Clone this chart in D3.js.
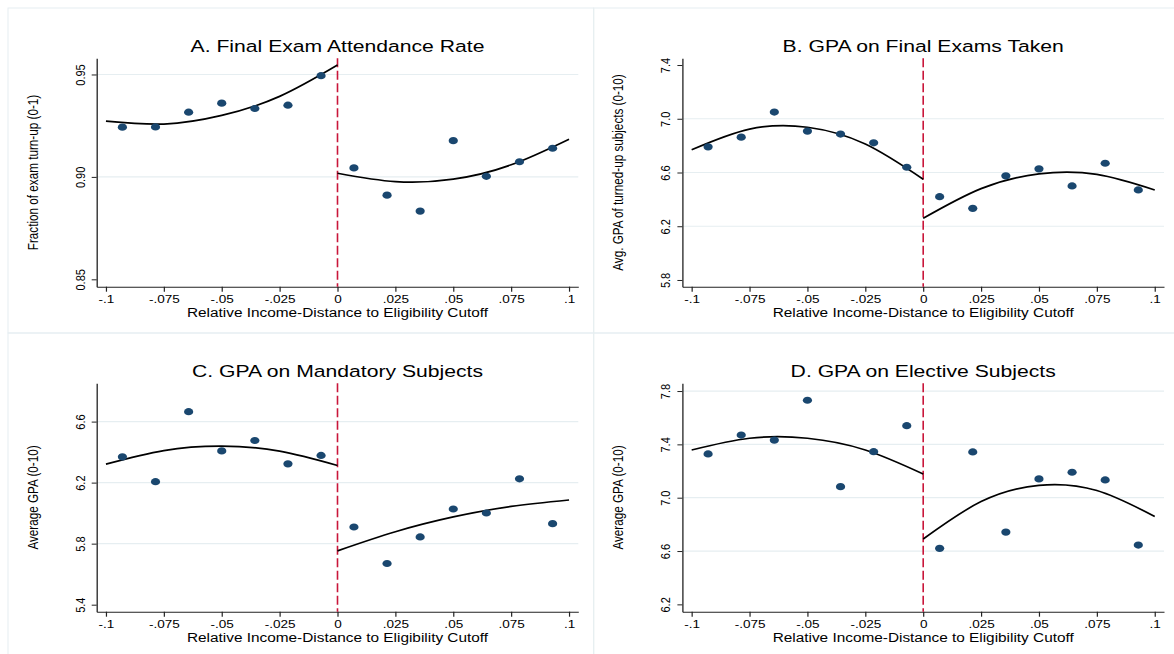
<!DOCTYPE html>
<html>
<head>
<meta charset="utf-8">
<script src="https://cdn.jsdelivr.net/npm/d3@7"></script>
<style>
  html, body { margin: 0; padding: 0; background: #fff; }
  svg { display: block; }
  text { font-family: "Liberation Sans", Arial, Helvetica, sans-serif; fill: #000; }
</style>
</head>
<body>
<svg id="chart" width="1174" height="654"></svg>
<script>
// ---- Data -----------------------------------------------------------------
// Bin centres of the relative income-distance running variable
const binCenters = [-0.0929, -0.0786, -0.0643, -0.05, -0.0357, -0.0214, -0.0071,
                     0.0071,  0.0214,  0.0357,  0.05,  0.0643,  0.0786,  0.0929];

// Binned outcome means
const attendanceRate = [0.9243, 0.9244, 0.9316, 0.9360, 0.9334, 0.9350, 0.9494,
                        0.9044, 0.8911, 0.8833, 0.9177, 0.9003, 0.9074, 0.9140];
const gpaTaken       = [6.791, 6.863, 7.050, 6.908, 6.886, 6.821, 6.639,
                        6.420, 6.333, 6.575, 6.627, 6.500, 6.669, 6.470];
const gpaMandatory   = [6.369, 6.206, 6.665, 6.408, 6.476, 6.323, 6.378,
                        5.909, 5.670, 5.844, 6.027, 6.001, 6.225, 5.931];
const gpaElective    = [7.328, 7.470, 7.432, 7.731, 7.083, 7.345, 7.540,
                        6.620, 7.343, 6.742, 7.141, 7.191, 7.133, 6.645];

// Quadratic fit values on each side of the cutoff
const fitLeftX  = [-0.1, -0.075, -0.05, -0.025, 0];
const fitRightX = [0, 0.025, 0.05, 0.075, 0.1];
const attendanceFitLeft  = [0.9272, 0.9258, 0.9300, 0.9393, 0.9546];
const attendanceFitRight = [0.9018, 0.8977, 0.8989, 0.9059, 0.9184];
const gpaTakenFitLeft    = [6.769, 6.923, 6.937, 6.812, 6.550];
const gpaTakenFitRight   = [6.259, 6.480, 6.590, 6.586, 6.470];
const gpaMandatoryFitLeft  = [6.321, 6.410, 6.439, 6.406, 6.312];
const gpaMandatoryFitRight = [5.753, 5.878, 5.975, 6.044, 6.086];
const gpaElectiveFitLeft   = [7.358, 7.446, 7.446, 7.358, 7.178];
const gpaElectiveFitRight  = [6.690, 6.971, 7.093, 7.054, 6.859];

// Axis ticks and labels
const xTicks      = [-0.1, -0.075, -0.05, -0.025, 0, 0.025, 0.05, 0.075, 0.1];
const xTickLabels = ["-.1", "-.075", "-.05", "-.025", "0", ".025", ".05", ".075", ".1"];
const attendanceTicks = [0.85, 0.90, 0.95];
const attendanceTickLabels = ["0.85", "0.90", "0.95"];
const attendanceGrid = [0.90, 0.95];
const gpaTakenTicks = [5.8, 6.2, 6.6, 7.0, 7.4];
const gpaTakenTickLabels = ["5.8", "6.2", "6.6", "7.0", "7.4"];
const gpaTakenGrid = [6.2, 6.6, 7.0];
const gpaMandatoryTicks = [5.4, 5.8, 6.2, 6.6];
const gpaMandatoryTickLabels = ["5.4", "5.8", "6.2", "6.6"];
const gpaMandatoryGrid = [5.8, 6.2, 6.6];
const gpaElectiveTicks = [6.2, 6.6, 7.0, 7.4, 7.8];
const gpaElectiveTickLabels = ["6.2", "6.6", "7.0", "7.4", "7.8"];
const gpaElectiveGrid = [6.6, 7.0, 7.4, 7.8];

const panelTitles = ["A. Final Exam Attendance Rate", "B. GPA on Final Exams Taken",
                     "C. GPA on Mandatory Subjects", "D. GPA on Elective Subjects"];
const yTitles = ["Fraction of exam turn-up (0-1)", "Avg. GPA of turned-up subjects (0-10)",
                 "Average GPA (0-10)", "Average GPA (0-10)"];
const xTitle = "Relative Income-Distance to Eligibility Cutoff";

// ---- Layout ---------------------------------------------------------------
const SX = 1.23;               // horizontal glyph stretch of the graph export
const panelW = 585.7, panelH = 325;
const plot = { left: 96.7, right: 578.3, top: 58.3, bottom: 286.7 };
const navy = "#1a476f";
const cutoffRed = "#c9163a";
const gridColor = "#e6eef1";

const panels = [
  { col: 0, row: 0, values: attendanceRate, fitL: attendanceFitLeft, fitR: attendanceFitRight,
    ticks: attendanceTicks, tickLabels: attendanceTickLabels, grid: attendanceGrid,
    yDomain: [0.8464, 0.9579] },
  { col: 1, row: 0, values: gpaTaken, fitL: gpaTakenFitLeft, fitR: gpaTakenFitRight,
    ticks: gpaTakenTicks, tickLabels: gpaTakenTickLabels, grid: gpaTakenGrid,
    yDomain: [5.75, 7.45] },
  { col: 0, row: 1, values: gpaMandatory, fitL: gpaMandatoryFitLeft, fitR: gpaMandatoryFitRight,
    ticks: gpaMandatoryTicks, tickLabels: gpaMandatoryTickLabels, grid: gpaMandatoryGrid,
    yDomain: [5.354, 6.851] },
  { col: 1, row: 1, values: gpaElective, fitL: gpaElectiveFitLeft, fitR: gpaElectiveFitRight,
    ticks: gpaElectiveTicks, tickLabels: gpaElectiveTickLabels, grid: gpaElectiveGrid,
    yDomain: [6.145, 7.858] }
];

const svg = d3.select("#chart");
svg.append("rect").attr("width", 1174).attr("height", 654).attr("fill", "#fff");

const x = d3.scaleLinear().domain([-0.104, 0.104]).range([plot.left, plot.right]);

panels.forEach((p, i) => {
  const g = svg.append("g")
    .attr("transform", `translate(${p.col * panelW},${p.row * panelH})`);

  // faint graph-region frame
  g.append("rect")
    .attr("x", 8).attr("y", 8).attr("width", panelW).attr("height", panelH)
    .attr("fill", "none").attr("stroke", gridColor).attr("stroke-width", 1);

  const y = d3.scaleLinear().domain(p.yDomain).range([plot.bottom, plot.top]);

  // grid lines
  g.append("g").selectAll("line")
    .data(p.grid)
    .join("line")
    .attr("x1", plot.left).attr("x2", plot.right)
    .attr("y1", d => y(d)).attr("y2", d => y(d))
    .attr("stroke", gridColor).attr("stroke-width", 1.2);

  // x axis
  const xAxis = g.append("g")
    .attr("transform", `translate(0,${plot.bottom})`)
    .call(d3.axisBottom(x).tickValues(xTicks)
      .tickFormat((d, k) => xTickLabels[k])
      .tickSize(5).tickSizeOuter(0).tickPadding(4));
  xAxis.select(".domain").attr("stroke", "#222").attr("stroke-width", 1.1);
  xAxis.selectAll(".tick line").attr("stroke", "#222").attr("stroke-width", 1.2);
  xAxis.selectAll(".tick text")
    .attr("font-size", 11).attr("fill", "#000")
    .attr("font-family", "Liberation Sans, Arial, sans-serif")
    .attr("transform", `scale(${SX},1)`);

  // y axis
  const yAxis = g.append("g")
    .attr("transform", `translate(${plot.left},0)`)
    .call(d3.axisLeft(y).tickValues(p.ticks)
      .tickFormat((d, k) => p.tickLabels[k])
      .tickSize(5).tickSizeOuter(0));
  yAxis.select(".domain").attr("stroke", "#222").attr("stroke-width", 1.3);
  yAxis.selectAll(".tick line").attr("stroke", "#222").attr("stroke-width", 1);
  yAxis.selectAll(".tick text")
    .attr("x", 0).attr("y", 0).attr("dy", 0)
    .attr("font-size", 11).attr("fill", "#000")
    .attr("font-family", "Liberation Sans, Arial, sans-serif")
    .attr("text-anchor", "middle")
    .attr("transform", `translate(-12,0) scale(${SX},1) rotate(-90)`);

  // cutoff line
  g.append("line")
    .attr("x1", x(0)).attr("x2", x(0))
    .attr("y1", plot.top).attr("y2", plot.bottom)
    .attr("stroke", cutoffRed).attr("stroke-width", 1.6)
    .attr("stroke-dasharray", "9,3.5");

  // fitted curves
  const line = d3.line().x(d => x(d[0])).y(d => y(d[1])).curve(d3.curveNatural);
  [[fitLeftX, p.fitL], [fitRightX, p.fitR]].forEach(([xs, ys]) => {
    g.append("path")
      .datum(xs.map((v, k) => [v, ys[k]]))
      .attr("d", line)
      .attr("fill", "none").attr("stroke", "#000").attr("stroke-width", 1.7);
  });

  // binned means
  g.append("g").selectAll("ellipse")
    .data(binCenters.map((v, k) => [v, p.values[k]]))
    .join("ellipse")
    .attr("cx", d => x(d[0])).attr("cy", d => y(d[1]))
    .attr("rx", 4.6).attr("ry", 3.6)
    .attr("fill", navy);

  const midX = (plot.left + plot.right) / 2;

  // panel title
  g.append("text")
    .attr("transform", `translate(${midX},52.3) scale(${SX},1)`)
    .attr("text-anchor", "middle").attr("font-size", 17.2)
    .text(panelTitles[i]);

  // x axis title
  g.append("text")
    .attr("transform", `translate(${midX},317.3) scale(${SX},1)`)
    .attr("text-anchor", "middle").attr("font-size", 12.5)
    .text(xTitle);

  // y axis title
  g.append("text")
    .attr("transform", `translate(37.5,${(plot.top + plot.bottom) / 2}) scale(${SX},1) rotate(-90)`)
    .attr("text-anchor", "middle").attr("font-size", 11.7)
    .text(yTitles[i]);
});
</script>
</body>
</html>
